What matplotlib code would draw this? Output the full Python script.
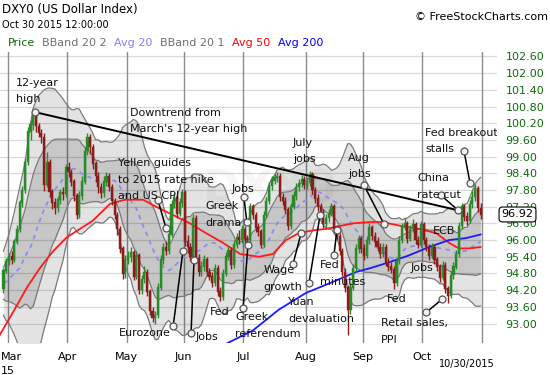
import numpy as np
import pandas as pd
import matplotlib
matplotlib.use("Agg")
import matplotlib.pyplot as plt
import matplotlib.transforms as mtransforms

# ---------------- data (session index 0 = Feb 26 2015 ... 176 = Oct 30 2015) -------------
opens = [94.25, 94.90, 95.25, 95.40, 95.30, 95.95, 96.40, 97.35, 97.80, 98.80,
         99.90, 100.15, 100.45, 100.10, 99.85, 99.70, 98.00, 98.80, 97.75, 97.35,
         97.15, 97.45, 97.70, 97.65, 98.60, 98.45, 98.10, 97.60, 96.90, 97.60,
         98.10, 99.20, 99.70, 99.35, 98.75, 98.30, 97.90, 97.70, 98.10, 98.30,
         97.90, 97.40, 96.90, 96.40, 95.70, 94.80, 95.30, 95.40, 95.55, 94.70,
         95.45, 94.20, 94.60, 94.85, 94.15, 93.45, 93.20, 93.30, 94.30, 95.30,
         95.75, 95.60, 96.20, 97.30, 97.55, 96.95, 97.35, 97.70, 95.95, 95.75,
         95.40, 96.80, 95.35, 94.85, 95.05, 95.30, 94.85, 94.70, 94.45, 95.00,
         94.15, 93.95, 94.80, 95.40, 95.65, 95.10, 95.85, 96.10, 96.00, 96.40,
         96.05, 96.00, 97.20, 96.90, 96.45, 96.30, 95.85, 96.90, 97.40, 97.95,
         98.15, 98.25, 98.30, 97.55, 97.40, 97.10, 96.50, 97.20, 97.60, 97.90,
         98.05, 98.20, 98.00, 98.05, 98.35, 97.80, 97.50, 97.20, 97.00, 96.60,
         96.80, 96.95, 97.20, 96.40, 96.15, 95.60, 94.85, 94.30, 93.50, 94.30,
         95.00, 95.70, 96.05, 95.70, 95.45, 96.00, 96.45, 96.15, 95.95, 95.75,
         95.50, 95.75, 95.20, 95.05, 94.95, 94.45, 95.25, 96.00, 96.45, 96.60,
         96.05, 96.40, 96.55, 96.00, 95.85, 96.55, 96.00, 95.75, 95.45, 95.75,
         95.30, 95.05, 94.65, 95.10, 94.25, 94.00, 94.75, 95.05, 95.50, 96.50,
         97.20, 96.85, 96.70, 97.30, 97.55, 97.85, 97.15]
closes = [94.90, 95.25, 95.40, 95.30, 95.95, 96.40, 97.35, 97.80, 98.80, 99.90,
          100.15, 100.45, 100.10, 99.85, 99.70, 98.00, 98.80, 97.75, 97.35, 97.15,
          97.45, 97.70, 97.65, 98.60, 98.45, 98.10, 97.60, 96.90, 97.60, 98.10,
          99.20, 99.70, 99.35, 98.75, 98.30, 97.90, 97.70, 98.10, 98.30, 97.90,
          97.40, 96.90, 96.40, 95.70, 94.80, 95.30, 95.40, 95.55, 94.70, 95.45,
          94.20, 94.60, 94.85, 94.15, 93.45, 93.20, 93.30, 94.30, 95.30, 95.75,
          95.60, 96.20, 97.30, 97.55, 96.95, 97.35, 97.70, 95.95, 95.75, 95.40,
          96.80, 95.35, 94.85, 95.05, 95.30, 94.85, 94.70, 94.45, 95.00, 94.15,
          93.95, 94.80, 95.40, 95.65, 95.10, 95.85, 96.10, 96.00, 96.40, 96.05,
          96.00, 97.20, 96.90, 96.45, 96.30, 95.85, 96.90, 97.40, 97.95, 98.15,
          98.25, 98.30, 97.55, 97.40, 97.10, 96.50, 97.20, 97.60, 97.90, 98.05,
          98.20, 98.00, 98.05, 98.35, 97.80, 97.50, 97.20, 97.00, 96.60, 96.80,
          96.95, 97.20, 96.40, 96.15, 95.60, 94.85, 94.30, 93.50, 94.30, 95.00,
          95.70, 96.05, 95.70, 95.45, 96.00, 96.45, 96.15, 95.95, 95.75, 95.50,
          95.75, 95.20, 95.05, 94.95, 94.45, 95.25, 96.00, 96.45, 96.60, 96.05,
          96.40, 96.55, 96.00, 95.85, 96.55, 96.00, 95.75, 95.45, 95.75, 95.30,
          95.05, 94.65, 95.10, 94.25, 94.00, 94.75, 95.05, 95.50, 96.50, 97.20,
          96.85, 96.70, 97.30, 97.55, 97.85, 97.15, 96.92]
highs = [95.00, 95.35, 95.55, 95.60, 96.05, 96.55, 97.45, 97.95, 98.95, 100.05,
         100.30, 100.60, 100.55, 100.20, 100.00, 99.85, 99.15, 98.90, 97.85, 97.50,
         97.60, 97.85, 97.90, 98.75, 98.80, 98.55, 98.20, 97.70, 97.75, 98.30,
         99.35, 99.85, 99.80, 99.45, 98.85, 98.45, 98.05, 98.30, 98.45, 98.40,
         98.00, 97.50, 97.00, 96.50, 95.80, 95.45, 95.60, 95.75, 95.65, 95.60,
         95.55, 94.75, 95.05, 94.95, 94.25, 93.60, 93.45, 94.45, 95.45, 95.90,
         95.95, 96.35, 97.45, 97.70, 97.65, 97.50, 97.85, 97.80, 96.20, 95.90,
         96.95, 96.90, 95.50, 95.25, 95.45, 95.40, 95.00, 94.85, 95.15, 95.10,
         94.30, 94.95, 95.55, 95.80, 95.75, 96.00, 96.25, 96.35, 96.55, 96.50,
         96.20, 97.35, 97.30, 97.00, 96.60, 96.40, 97.05, 97.55, 98.10, 98.30,
         98.40, 98.45, 98.40, 97.70, 97.55, 97.20, 97.35, 97.75, 98.05, 98.20,
         98.35, 98.30, 98.25, 98.50, 98.45, 97.90, 97.65, 97.35, 97.10, 96.95,
         97.10, 97.35, 97.30, 96.55, 96.25, 95.70, 95.00, 94.40, 94.45, 95.15,
         95.85, 96.20, 96.15, 95.85, 96.15, 96.60, 96.55, 96.30, 96.10, 95.90,
         95.90, 95.85, 95.35, 95.20, 95.05, 95.40, 96.15, 96.60, 96.80, 96.70,
         96.55, 96.75, 96.65, 96.15, 96.70, 96.65, 96.10, 95.85, 95.90, 95.85,
         95.40, 95.15, 95.25, 95.20, 94.35, 94.90, 95.20, 95.65, 96.65, 97.35,
         97.30, 97.00, 97.45, 97.75, 98.00, 97.95, 97.35]
lows = [94.10, 94.80, 95.10, 95.15, 95.20, 95.85, 96.30, 97.20, 97.70, 98.70,
        99.60, 99.95, 99.90, 99.70, 99.50, 97.75, 97.90, 97.55, 97.10, 96.95,
        97.00, 97.30, 97.45, 97.55, 98.25, 97.95, 97.40, 96.75, 96.80, 97.45,
        98.00, 99.05, 99.10, 98.55, 98.10, 97.70, 97.50, 97.55, 97.95, 97.75,
        97.25, 96.75, 96.20, 95.55, 94.60, 94.65, 95.15, 95.20, 94.55, 94.60,
        94.05, 94.05, 94.45, 94.00, 93.30, 93.05, 93.00, 93.20, 94.20, 95.15,
        95.45, 95.50, 96.10, 97.15, 96.80, 96.85, 97.20, 95.80, 95.55, 95.25,
        95.30, 95.20, 94.70, 94.70, 94.90, 94.70, 94.55, 94.30, 94.35, 94.00,
        93.80, 93.85, 94.70, 95.30, 94.95, 95.00, 95.70, 95.85, 95.90, 95.90,
        95.85, 95.90, 96.75, 96.30, 96.15, 95.70, 95.75, 96.80, 97.30, 97.80,
        98.00, 98.10, 97.40, 97.25, 96.95, 96.35, 96.40, 97.10, 97.45, 97.75,
        97.90, 97.85, 97.85, 97.95, 97.65, 97.35, 97.05, 96.85, 96.45, 96.45,
        96.65, 96.85, 96.25, 96.00, 95.45, 94.70, 94.15, 92.60, 93.35, 94.20,
        94.90, 95.55, 95.55, 95.30, 95.35, 95.90, 96.00, 95.80, 95.60, 95.35,
        95.40, 95.05, 94.90, 94.80, 94.25, 94.35, 95.15, 95.90, 96.35, 95.90,
        95.95, 96.30, 95.85, 95.70, 95.75, 95.85, 95.60, 95.30, 95.35, 95.15,
        94.90, 94.50, 94.55, 94.10, 93.75, 93.90, 94.60, 94.95, 95.40, 96.40,
        96.70, 96.55, 96.60, 97.15, 97.40, 97.00, 96.75]

# Bollinger mid / upper(2 sd) for the first 19 sessions
early_mid = [94.45, 94.50, 94.60, 94.70, 94.80, 94.90, 95.00, 95.20, 95.40, 95.60,
             95.75, 96.00, 96.30, 96.60, 96.85, 97.10, 97.30, 97.50, 97.70]
early_up2 = [95.60, 95.90, 96.20, 96.60, 97.00, 97.45, 97.90, 98.35, 98.80, 99.50,
             100.20, 100.75, 101.00, 101.20, 101.30, 101.40, 101.45, 101.47, 101.45]

avg50_idx = [-1.3, 3.5, 8.7, 13.5, 18.3, 23.4, 28.2, 33, 39.3, 44.8, 51.5, 56.3, 62.6,
             68.8, 74.7, 81, 87.3, 94.3, 99.4, 104.2, 109, 114.2, 119, 123.8, 128.9,
             135.6, 139.6, 147, 153.3, 159.6, 164.4, 168, 171.7, 176]
avg50_val = [92.6, 93.4, 94.3, 95.0, 95.6, 96.1, 96.4, 96.7, 97.3, 97.45, 97.45, 97.2,
             96.9, 96.6, 96.25, 95.9, 95.5, 95.4, 95.5, 96.0, 96.25, 96.35, 96.4, 96.5,
             96.6, 96.65, 96.65, 96.5, 96.4, 96.25, 95.9, 95.7, 95.7, 95.75]

avg200_idx = [81.7, 92, 101.6, 111.6, 121.6, 130, 135.6, 142.2, 149.6, 157, 164.4, 170.6, 176]
avg200_val = [92.25, 92.75, 93.5, 94.1, 94.5, 94.85, 95.0, 95.2, 95.45, 95.75, 96.0, 96.07, 96.2]

month_first_idx = [2, 24, 46, 67, 89, 112, 133, 155, 177]
month_labels = ["Mar", "Apr", "May", "Jun", "Jul", "Aug", "Sep", "Oct"]

last_price = 96.92

notes = [("12-year\nhigh", 4.6, 101.65), ("Downtrend from\nMarch's 12-year high", 46.7, 100.57),
         ("Yellen guides\nto 2015 rate hike\nand US CPI", 42.3, 98.77), ("Jobs", 84.3, 97.83),
         ("Greek\ndrama", 74.4, 97.22), ("Greek\nreferendum", 85.4, 93.22), ("Fed", 76.2, 93.40),
         ("Jobs", 70.7, 92.50), ("Eurozone\nCPI", 42.6, 92.65), ("Wage\ngrowth", 95.8, 94.91),
         ("Yuan\ndevaluation", 105.0, 93.76), ("Fed\nminutes", 116.8, 95.09),
         ("July\njobs", 106.8, 99.49), ("Aug\njobs", 127.1, 98.95), ("China\nrate cut", 152.6, 98.23),
         ("Fed breakout\nstalls", 155.5, 99.85), ("ECB", 158.4, 96.32), ("Jobs", 150.3, 94.99),
         ("Fed", 141.5, 93.87), ("Retail sales,\nPPI", 139.3, 93.01)]
pointers = [((57.0, 97.43), (60.0, 96.42)), ((88.7, 97.54), (89.8, 96.64)),
            ((90.2, 95.81), (88.4, 93.55)), ((69.2, 92.65), (70.3, 95.28)),
            ((62.6, 92.90), (66.2, 95.60)), ((106.8, 95.13), (109.8, 96.25)),
            ((112.7, 94.45), (116.8, 96.90)), ((121.9, 95.45), (123.0, 96.35)),
            ((133.0, 97.97), (140.4, 96.57)), ((161.4, 97.61), (167.7, 97.07)),
            ((169.9, 99.20), (172.1, 98.05)), ((155.9, 93.40), (161.8, 93.87))]
trend = ((11.6, 100.60), (167.7, 97.07))

# ---------------- figure ----------------
W, H = 550, 375
fig = plt.figure(figsize=(W / 100, H / 100), dpi=100)
plt.rcParams['font.family'] = ['DejaVu Sans']
ax = fig.add_axes([0, 1 - 343 / H, 497 / W, (343 - 52) / H])
ax.set_xlim(-1.27, 182.06)
ax.set_ylim(92.30, 102.76)
for s in ax.spines.values():
    s.set_visible(False)

ticks = np.round(np.arange(93.0, 102.61, 0.6), 2)
ax.set_yticks(ticks)
ax.set_yticklabels([f"{t:.2f}" for t in ticks])
ax.yaxis.tick_right()
ax.tick_params(axis='y', length=0, pad=6, labelsize=8, labelcolor='#0d6b0d')
ax.tick_params(axis='x', length=0, labelbottom=False)
ax.yaxis.grid(True, color='#d9d9d9', lw=0.9, zorder=0)
ax.set_axisbelow(True)
for m in month_first_idx:
    ax.axvline(m - 0.5, color='#8c8c8c', lw=1.0, zorder=0.6)

x = np.arange(len(closes))
o = np.array(opens); c = np.array(closes); h = np.array(highs); l = np.array(lows)

s = pd.Series(closes)
mid = s.rolling(20).mean().to_numpy()
sd = s.rolling(20).std(ddof=0).to_numpy()
n0 = len(early_mid)
mid[:n0] = early_mid
sd[:n0] = (np.array(early_up2) - np.array(early_mid)) / 2
up2, lo2, up1, lo1 = mid + 2 * sd, mid - 2 * sd, mid + sd, mid - sd

ax.fill_between(x, lo2, up2, color='black', alpha=0.11, lw=0, zorder=1)
ax.fill_between(x, lo1, up1, color='black', alpha=0.12, lw=0, zorder=1.1)
for band in (up2, lo2, up1, lo1):
    ax.plot(x, band, color='#7a7a7a', lw=0.9, zorder=1.5)
ax.plot(x, mid, color='#8c8cf2', lw=1.3, dashes=(2.5, 2.5), zorder=2)
ax.plot(avg50_idx, avg50_val, color='#ff1a1a', lw=1.3, zorder=2.2)
ax.plot(avg200_idx, avg200_val, color='#1a1aff', lw=1.3, zorder=2.2)

# watermark
ax.text(98.5, 97.8, "DXY0", fontsize=32, color='black', alpha=0.035, ha='center',
        va='center', fontweight='bold', zorder=0.8)

UP, DN = '#2a8a2a', '#8b1c1c'
upm = c >= o
for mask, col in ((upm, UP), (~upm, DN)):
    ax.vlines(x[mask], l[mask], h[mask], color=col, lw=1.0, zorder=5)
    ax.bar(x[mask], np.abs(c[mask] - o[mask]) + 0.02, bottom=np.minimum(c[mask], o[mask]) - 0.01,
           width=0.78, color=col, edgecolor=col, lw=0.3, zorder=6)

# trend line and pointers
ax.plot([trend[0][0], trend[1][0]], [trend[0][1], trend[1][1]], color='black', lw=1.4, zorder=8)
ax.plot([trend[0][0]], [trend[0][1]], 'o', ms=5, mfc='#f2f2f2', mec='#555555', mew=0.9, zorder=9)
for (a, b) in pointers:
    ax.plot([a[0], b[0]], [a[1], b[1]], color='black', lw=1.1, zorder=8)
    ax.plot([a[0], b[0]], [a[1], b[1]], 'o', ls='none', ms=5, mfc='#f2f2f2', mec='#555555',
            mew=0.9, zorder=9)

for text, xi, yv in notes:
    for k, line in enumerate(text.split("\n")):
        tr = mtransforms.offset_copy(ax.transData, fig=fig, x=0, y=-16.5 * k, units='dots')
        ax.text(xi, yv, line, transform=tr, fontsize=8, ha='left', va='center',
                color='#111111', zorder=10, clip_on=True)

# last price box
ax.text(1.0 + 4.5 / 497, last_price, f"{last_price:.2f}", transform=ax.get_yaxis_transform(),
        fontsize=8, ha='left', va='center', color='black', zorder=12, clip_on=False,
        bbox=dict(boxstyle='round,pad=0.22,rounding_size=0.3', fc='white', ec='black', lw=0.8))

# month labels
btr = mtransforms.blended_transform_factory(ax.transData, fig.transFigure)
for k, lab in enumerate(month_labels):
    xm = month_first_idx[k] - 0.5
    if k == 0:
        fig.text(0.002, 1 - 357 / H, lab, fontsize=8, ha='left', va='center')
        fig.text(0.002, 1 - 371 / H, "15", fontsize=8, ha='left', va='center')
    else:
        ax.text(xm, 1 - 357 / H, lab, transform=btr, fontsize=8, ha='center', va='center',
                clip_on=False)
fig.text(439 / W, 1 - 364 / H, "10/30/2015", fontsize=7, ha='left', va='center')

# header
fig.text(2 / W, 1 - 10 / H, "DXY0 (US Dollar Index)", fontsize=8.5, ha='left', va='center')
fig.text(2 / W, 1 - 25 / H, "Oct 30 2015 12:00:00", fontsize=7, ha='left', va='center')
fig.text(548 / W, 1 - 17 / H, "\u00a9 FreeStockCharts.com", fontsize=8, ha='right', va='center')
legend_items = [("Price", '#0d6b0d', 8), ("BBand 20 2", '#707070', 42), ("Avg 20", '#7f7fff', 114),
                ("BBand 20 1", '#707070', 160), ("Avg 50", '#ff0000', 232), ("Avg 200", '#0000ff', 278)]
for name, col, px in legend_items:
    fig.text(px / W, 1 - 43 / H, name, fontsize=8, color=col, ha='left', va='center')

fig.savefig("out.png", dpi=100)
